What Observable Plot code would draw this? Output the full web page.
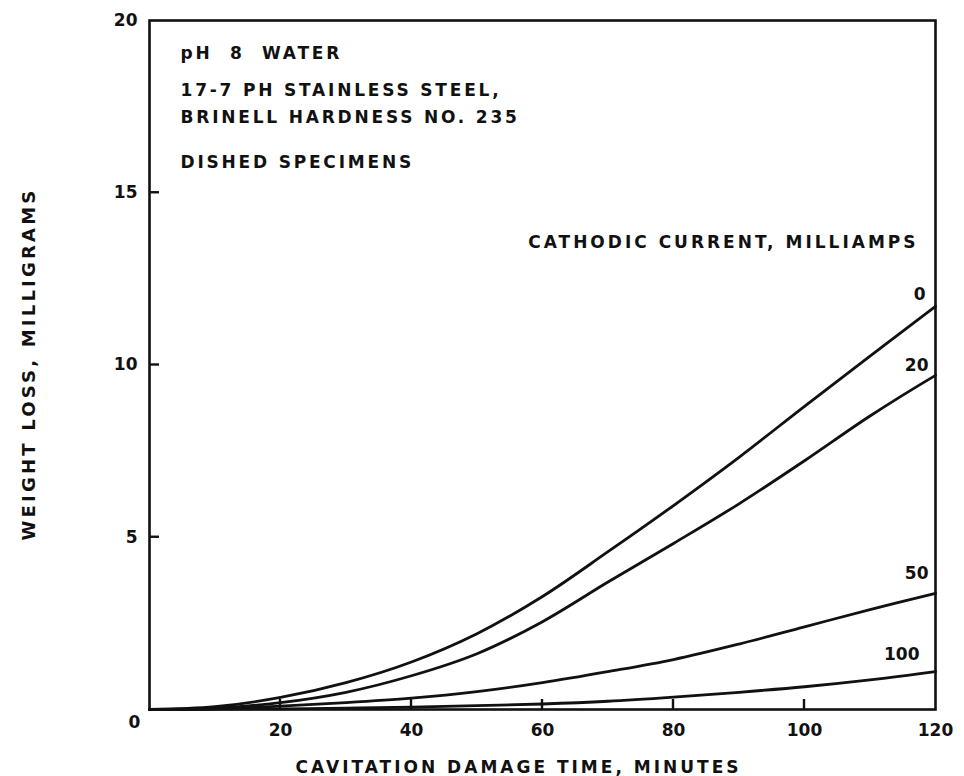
<!DOCTYPE html>
<html>
<head>
<meta charset="utf-8">
<script src="https://cdn.jsdelivr.net/npm/d3@7"></script>
<script src="https://cdn.jsdelivr.net/npm/@observablehq/plot@0.6"></script>
<style>
  html, body { margin: 0; padding: 0; background: #fff; }
  #chart svg { display: block; }
</style>
</head>
<body>
<div id="chart"></div>
<script>
// Cavitation damage time (minutes)
const minutes = [0, 10, 20, 30, 40, 50, 60, 70, 80, 90, 100, 110, 120];

// Weight loss (mg) for each cathodic current (milliamps)
const loss0   = [0, 0.08, 0.35, 0.78, 1.38, 2.20, 3.28, 4.58, 5.92, 7.32, 8.80, 10.26, 11.70];
const loss20  = [0, 0.04, 0.20, 0.50, 0.98, 1.62, 2.55, 3.70, 4.82, 5.97, 7.22, 8.52, 9.70];
const loss50  = [0, 0.02, 0.10, 0.20, 0.33, 0.52, 0.78, 1.10, 1.45, 1.90, 2.40, 2.90, 3.37];
const loss100 = [0, 0.01, 0.02, 0.04, 0.07, 0.11, 0.16, 0.24, 0.36, 0.50, 0.66, 0.86, 1.10];

const currents = ["0", "20", "50", "100"];
const seriesValues = [loss0, loss20, loss50, loss100];

// Tick values
const xTicks = [20, 40, 60, 80, 100, 120];
const xTickMarks = [20, 40, 60, 80, 100];
const yTicks = [5, 10, 15, 20];
const yTickMarks = [5, 10, 15];

// Text
const xTitle = "CAVITATION DAMAGE TIME, MINUTES";
const yTitle = "WEIGHT LOSS, MILLIGRAMS";
const legendTitle = "CATHODIC CURRENT, MILLIAMPS";
const notes = ["pH  8  WATER", "17-7 PH STAINLESS STEEL,", "BRINELL HARDNESS NO. 235", "DISHED SPECIMENS"];

// Long-format rows built from the arrays above
const rows = currents.flatMap((c, i) =>
  minutes.map((m, j) => ({current: c, minutes: m, loss: seriesValues[i][j]}))
);
const last = minutes.length - 1;
const ends = currents.map((c, i) => ({current: c, minutes: minutes[last], loss: seriesValues[i][last]}));

const font = "'DejaVu Sans', sans-serif";
const ink = "#111";
const tickLength = 10;

// offsets of the curve-end labels
const labelDx = {"0": -10, "20": -7, "50": -7, "100": -16};
const labelDy = {"0": -12, "20": -10, "50": -20, "100": -17};

const lettered = {fontWeight: "bold", fill: ink};

const chart = Plot.plot({
  width: 964,
  height: 776,
  marginLeft: 149,
  marginRight: 29,
  marginTop: 20,
  marginBottom: 67,
  style: {fontFamily: font, fontSize: "18px", color: ink, background: "#fff"},
  x: {domain: [0, 120], label: null},
  y: {domain: [0, 20], label: null},
  marks: [
    Plot.frame({stroke: ink, strokeWidth: 2.6}),
    // tick labels
    Plot.axisY(yTicks, {anchor: "left", tickSize: 0, tickPadding: 12, fontSize: 17, ...lettered, className: "ticklabels"}),
    Plot.axisX(xTicks, {anchor: "bottom", tickSize: 0, tickPadding: 14, fontSize: 17, ...lettered, className: "ticklabels"}),
    Plot.text([0], {x: 0, y: 0, text: () => "0", dx: -15, dy: 13, fontSize: 17, ...lettered, className: "ticklabels"}),
    // curves
    Plot.line(rows, {x: "minutes", y: "loss", z: "current", curve: "catmull-rom", stroke: ink, strokeWidth: 2.8}),
    // curve labels
    ...ends.map(d => Plot.text([d], {x: "minutes", y: "loss", text: "current", textAnchor: "end",
      dx: labelDx[d.current], dy: labelDy[d.current], fontSize: 17, ...lettered, className: "ticklabels"})),
    // legend heading
    Plot.text([legendTitle], {frameAnchor: "top-right", textAnchor: "end", lineAnchor: "middle",
      dx: -17, dy: 222, fontSize: 17, ...lettered, className: "wide"}),
    // notes
    ...notes.map((t, i) => Plot.text([t], {frameAnchor: "top-left", textAnchor: "start", lineAnchor: "middle",
      dx: 31, dy: [33, 70, 97, 142][i], fontSize: 17, ...lettered, className: "notes"})),
    // axis titles
    Plot.text([xTitle], {frameAnchor: "bottom", textAnchor: "middle", lineAnchor: "middle",
      dx: -24, dy: 58, fontSize: 17, ...lettered, className: "wide"}),
    Plot.text([yTitle], {frameAnchor: "left", textAnchor: "middle", lineAnchor: "middle", rotate: -90,
      dx: -120, dy: -1, fontSize: 18, ...lettered, className: "ytitle"})
  ]
});

const svg = d3.select(chart);

// wide, evenly spaced lettering
svg.selectAll(".wide text").style("letter-spacing", "3px");
svg.selectAll(".notes text").style("letter-spacing", "2.8px");
svg.selectAll(".ytitle text").style("letter-spacing", "3.2px");

// short tick marks pointing into the frame, placed with the chart's own scales
const sx = chart.scale("x"), sy = chart.scale("y");
const x0 = sx.apply(0), y0 = sy.apply(0);
const ticks = svg.append("g").attr("stroke", ink).attr("stroke-width", 2.4);
ticks.selectAll("line.ty").data(yTickMarks).join("line")
  .attr("x1", x0).attr("x2", x0 + tickLength)
  .attr("y1", d => sy.apply(d)).attr("y2", d => sy.apply(d));
ticks.selectAll("line.tx").data(xTickMarks).join("line")
  .attr("x1", d => sx.apply(d)).attr("x2", d => sx.apply(d))
  .attr("y1", y0).attr("y2", y0 - tickLength);

document.getElementById("chart").append(chart);
</script>
</body>
</html>
